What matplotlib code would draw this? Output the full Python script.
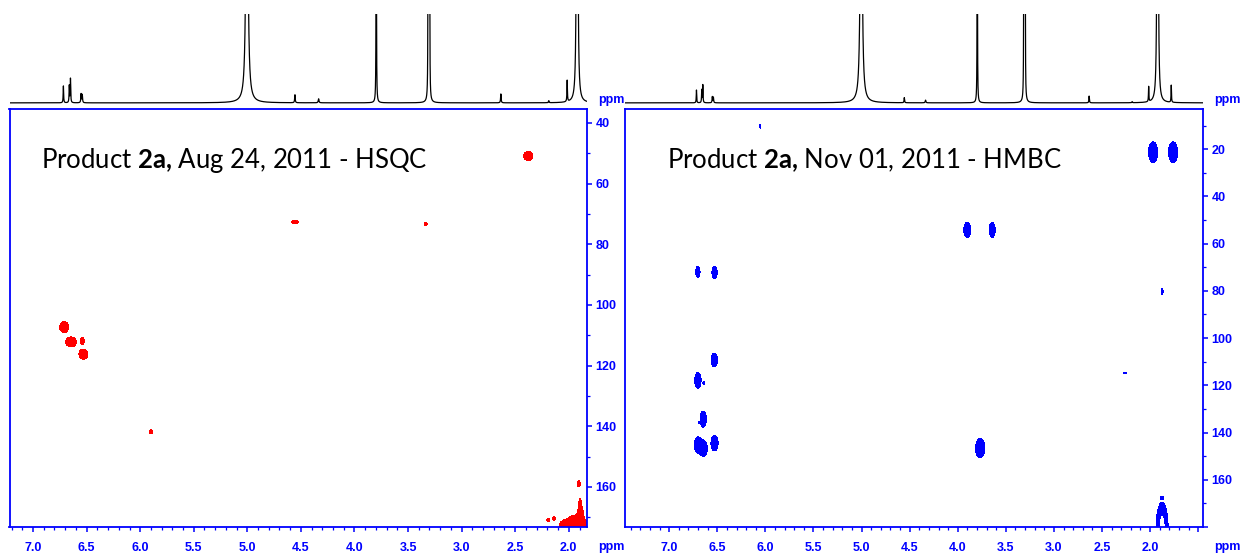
import numpy as np
import matplotlib
matplotlib.use("Agg")
import matplotlib.pyplot as plt
from matplotlib.ticker import MultipleLocator, FuncFormatter
from matplotlib.transforms import IdentityTransform

W, H, DPI = 1242, 555, 100

# ---------------- 1H traces (shift ppm, height in % of trace window, HWHM ppm) ----------------
hsqc_1h_ppm = [6.717, 6.662, 6.651, 6.552, 6.541, 5.004, 4.556, 4.335, 3.797,
               3.314, 3.310, 3.306, 3.302, 3.298, 2.634, 2.187, 2.015, 1.924, 1.920]
hsqc_1h_height = [19, 19, 27, 10, 9, 500, 9, 4.5, 500,
                  150, 300, 450, 300, 150, 10, 2.3, 24, 800, 800]
hsqc_1h_hwhm = [0.0025, 0.0025, 0.0025, 0.003, 0.003, 0.008, 0.003, 0.004, 0.0015,
                0.0015, 0.0015, 0.0015, 0.0015, 0.0015, 0.003, 0.003, 0.0025, 0.003, 0.003]

hmbc_1h_ppm = [6.717, 6.662, 6.651, 6.552, 6.541, 5.004, 4.556, 4.335, 3.797,
               3.314, 3.310, 3.306, 3.302, 3.298, 2.634, 2.187, 2.015, 1.924, 1.920, 1.780]
hmbc_1h_height = [14.4, 14.4, 20, 6.8, 6.2, 500, 5.7, 3, 500,
                  150, 300, 450, 300, 150, 7.6, 1.2, 17, 800, 800, 19.3]
hmbc_1h_hwhm = [0.0025, 0.0025, 0.0025, 0.003, 0.003, 0.008, 0.003, 0.004, 0.0015,
                0.0015, 0.0015, 0.0015, 0.0015, 0.0015, 0.003, 0.003, 0.0025, 0.003, 0.003, 0.0025]

# ---------------- HSQC cross peaks (1H ppm, 13C ppm, half sizes, relative amplitude) ----------------
hsqc_h = [2.380, 4.556, 3.334, 6.710, 6.645, 6.540, 6.530, 5.900, 1.907, 2.190, 2.137,
          1.900, 1.895, 2.010, 1.870, 1.975, 1.890, 1.950]
hsqc_c = [50.9, 72.6, 73.3, 107.3, 112.2, 111.9, 116.2, 141.8, 159.0, 170.8, 170.4,
          173.5, 167.0, 173.0, 172.5, 172.6, 170.0, 171.5]
hsqc_hw = [0.042, 0.033, 0.012, 0.042, 0.050, 0.017, 0.042, 0.015, 0.014, 0.014, 0.014,
           0.030, 0.012, 0.080, 0.040, 0.020, 0.028, 0.040]
hsqc_cw = [1.5, 0.5, 0.5, 1.8, 1.65, 1.15, 1.65, 0.6, 1.0, 0.5, 0.5,
           3.0, 3.0, 2.4, 1.8, 0.6, 3.5, 2.0]
hsqc_amp = [1] * len(hsqc_h)

# ---------------- HMBC cross peaks ----------------
hmbc_h = [1.969, 1.761, 3.902, 3.642, 6.702, 6.529, 1.875, 6.532, 6.702, 6.639, 6.647,
          6.691, 6.702, 6.643, 6.529, 3.767, 6.054, 2.260, 1.875, 1.875]
hmbc_c = [21.3, 21.3, 54.2, 54.2, 72.0, 72.3, 80.3, 109.3, 117.9, 118.9, 134.3,
          135.7, 145.2, 146.7, 144.5, 146.6, 10.3, 114.9, 180.5, 167.7]
hmbc_hw = [0.047, 0.047, 0.036, 0.031, 0.022, 0.027, 0.010, 0.033, 0.033, 0.010, 0.033,
           0.006, 0.038, 0.038, 0.037, 0.048, 0.006, 0.015, 0.032, 0.015]
hmbc_cw = [4.4, 4.4, 3.2, 3.2, 2.4, 2.6, 1.3, 2.9, 3.3, 0.6, 3.4,
           0.4, 3.3, 3.3, 3.3, 4.1, 0.8, 0.3, 5.7, 0.6]
hmbc_amp = [1] * 18 + [16, 1]

x_ticks = [7.0, 6.5, 6.0, 5.5, 5.0, 4.5, 4.0, 3.5, 3.0, 2.5, 2.0]

BLUE = '#0000ff'
RED = '#ff0000'

plt.rcParams['font.family'] = ['Liberation Sans', 'DejaVu Sans']
plt.rcParams['font.weight'] = 'bold'
plt.rcParams['mathtext.fontset'] = 'custom'
plt.rcParams['mathtext.rm'] = 'Lato'
plt.rcParams['mathtext.bf'] = 'Lato:bold'

fig = plt.figure(figsize=(W / DPI, H / DPI), dpi=DPI)


def px_axes(left, top, right, bottom):
    return fig.add_axes([left / W, 1 - bottom / H, (right - left) / W, (bottom - top) / H])


def proton_trace(x, shifts, heights, widths):
    y = np.zeros_like(x)
    for s, h, w in zip(shifts, heights, widths):
        y += h * w ** 2 / ((x - s) ** 2 + w ** 2)
    return y


def cross_peak_map(xs, ys, h, c, hw, cw, amp):
    z = np.zeros((ys.size, xs.size))
    for hi, ci, hwi, cwi, a in zip(h, c, hw, cw, amp):
        z += a * np.outer(np.exp(-((ys - ci) / cwi) ** 2), np.exp(-((xs - hi) / hwi) ** 2))
    return z


def panel(left, right, xlim, ylim, trace, peaks, color, caption, caption_x):
    top, bottom = 109, 527
    ax = px_axes(left, top, right, bottom)
    ax.set_xlim(*xlim)
    ax.set_ylim(*ylim)

    xs = np.linspace(xlim[1] - 0.05, xlim[0] + 0.05, 3000)
    ys = np.linspace(ylim[1] - 3, ylim[0] + 3, 2200)
    z = cross_peak_map(xs, ys, *peaks)
    ax.contourf(xs, ys, z, levels=[np.exp(-1), 6.0], colors=[color])

    for sp in ax.spines.values():
        sp.set_color(BLUE)
        sp.set_linewidth(1.3)
    ax.yaxis.tick_right()
    ax.xaxis.set_major_locator(MultipleLocator(0.5))
    ax.xaxis.set_minor_locator(MultipleLocator(0.1))
    ax.yaxis.set_major_locator(MultipleLocator(20))
    ax.yaxis.set_minor_locator(MultipleLocator(10))
    lo, hi = min(x_ticks), max(x_ticks)
    ax.xaxis.set_major_formatter(FuncFormatter(
        lambda v, p: f"{v:.1f}" if lo - 1e-6 <= v <= hi + 1e-6 else ""))
    ax.yaxis.set_major_formatter(FuncFormatter(
        lambda v, p: f"{v:.0f}" if v <= 165 else ""))
    ax.tick_params(which='both', direction='out', color=BLUE, labelcolor=BLUE,
                   labelsize=9, top=False, left=False)
    ax.tick_params(which='major', length=3.5, width=1.1)
    ax.tick_params(which='minor', length=2, width=0.9)
    ax.tick_params(axis='x', which='major', pad=7)
    ax.tick_params(axis='y', which='major', pad=2.5)

    # projection trace above
    tx = px_axes(left, 14, right, 105)
    xg = np.linspace(xlim[0], xlim[1], 24000)
    tx.plot(xg, proton_trace(xg, *trace), color='black', lw=0.9)
    tx.set_xlim(*xlim)
    tx.set_ylim(-2.4, 100)
    tx.axis('off')

    # axis unit labels
    fig.text((right + 11) / W, 1 - 100 / H, 'ppm', color=BLUE, fontsize=9,
             fontweight='bold', ha='left', va='center')
    fig.text((right + 11) / W, 1 - 547 / H, 'ppm', color=BLUE, fontsize=9,
             fontweight='bold', ha='left', va='center')

    # caption inside the plot
    t = fig.text(caption_x, H - 168, caption, transform=IdentityTransform(),
                 family='Lato', fontweight='normal', fontsize=18, color='black',
                 ha='left', va='baseline')
    return ax, t


ax1, t1 = panel(9.5, 587, (7.22, 1.83), (173.2, 35.4),
                (hsqc_1h_ppm, hsqc_1h_height, hsqc_1h_hwhm),
                (hsqc_h, hsqc_c, hsqc_hw, hsqc_cw, hsqc_amp), RED,
                r"Product $\mathbf{2a{,}}$ Aug 24, 2011 - HSQC", 40.7)
ax2, t2 = panel(625, 1203, (7.46, 1.45), (180.0, 3.0),
                (hmbc_1h_ppm, hmbc_1h_height, hmbc_1h_hwhm),
                (hmbc_h, hmbc_c, hmbc_hw, hmbc_cw, hmbc_amp), BLUE,
                r"Product $\mathbf{2a{,}}$ Nov 01, 2011 - HMBC", 667)

# fit caption width
renderer = fig.canvas.get_renderer()
for t, target in ((t1, 386), (t2, 394)):
    w = t.get_window_extent(renderer).width
    t.set_fontsize(t.get_fontsize() * target / w)

fig.savefig('out.png', dpi=DPI)
